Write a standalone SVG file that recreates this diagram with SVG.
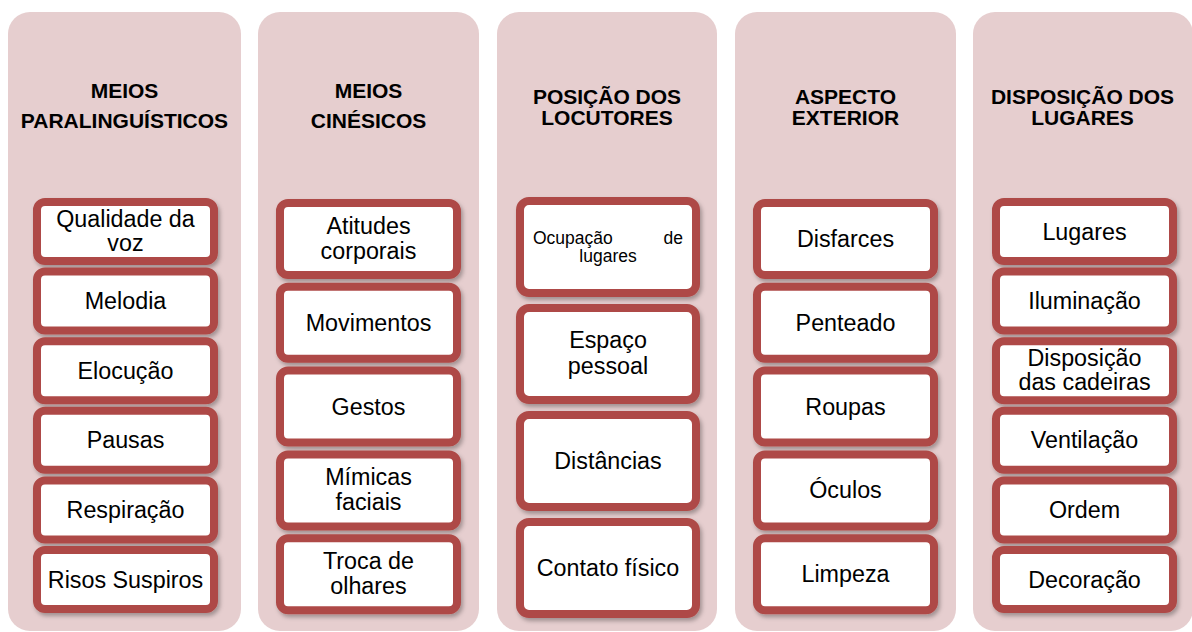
<svg xmlns="http://www.w3.org/2000/svg" width="1192" height="632" viewBox="0 0 1192 632">
<defs>
<filter id="sh" x="-10%" y="-10%" width="125%" height="130%">
<feDropShadow dx="2" dy="3" stdDeviation="2" flood-color="#000" flood-opacity="0.3"/>
</filter>
<style>
.col{fill:#E6CECF;}
.box{fill:#FFFFFF;stroke:#AE4A47;stroke-width:8;filter:url(#sh);}
.hd{font-family:"Liberation Sans",Arial,sans-serif;font-weight:bold;font-size:21px;fill:#000;text-anchor:middle;}
.t{font-family:"Liberation Sans",Arial,sans-serif;font-size:23.3px;fill:#000;text-anchor:middle;}
.s{font-family:"Liberation Sans",Arial,sans-serif;font-size:17.5px;fill:#000;}
</style>
</defs>
<rect width="1192" height="632" fill="#FFFFFF"/>

<g id="col1">
<rect class="col" x="8" y="12" width="233" height="619" rx="22"/>
<text class="hd" x="124.5" y="98">MEIOS</text>
<text class="hd" x="124.5" y="128">PARALINGUÍSTICOS</text>
</g>
<g id="col2">
<rect class="col" x="258" y="12" width="221" height="619" rx="22"/>
<text class="hd" x="368.5" y="98">MEIOS</text>
<text class="hd" x="368.5" y="128">CINÉSICOS</text>
</g>
<g id="col3">
<rect class="col" x="497" y="12" width="220" height="619" rx="22"/>
<text class="hd" x="607" y="104">POSIÇÃO DOS</text>
<text class="hd" x="607" y="125">LOCUTORES</text>
</g>
<g id="col4">
<rect class="col" x="735" y="12" width="221" height="619" rx="22"/>
<text class="hd" x="845.5" y="104">ASPECTO</text>
<text class="hd" x="845.5" y="125">EXTERIOR</text>
</g>
<g id="col5">
<rect class="col" x="973" y="12" width="220" height="619" rx="22"/>
<text class="hd" x="1082.5" y="104">DISPOSIÇÃO DOS</text>
<text class="hd" x="1082.5" y="125">LUGARES</text>
</g>

<g id="c1-qualidade"><rect class="box" x="37" y="202" width="177" height="59" rx="8"/><text class="t" x="125.5" y="227">Qualidade da</text><text class="t" x="125.5" y="251">voz</text></g>
<g id="c1-melodia"><rect class="box" x="37" y="271.6" width="177" height="59" rx="8"/><text class="t" x="125.5" y="309">Melodia</text></g>
<g id="c1-elocucao"><rect class="box" x="37" y="341.2" width="177" height="59" rx="8"/><text class="t" x="125.5" y="378.7">Elocução</text></g>
<g id="c1-pausas"><rect class="box" x="37" y="410.8" width="177" height="59" rx="8"/><text class="t" x="125.5" y="448.3">Pausas</text></g>
<g id="c1-respiracao"><rect class="box" x="37" y="480.4" width="177" height="59" rx="8"/><text class="t" x="125.5" y="517.9">Respiração</text></g>
<g id="c1-risos"><rect class="box" x="37" y="550" width="177" height="59" rx="8"/><text class="t" x="125.5" y="587.5">Risos Suspiros</text></g>

<g id="c2-atitudes"><rect class="box" x="280" y="203" width="177" height="72" rx="8"/><text class="t" x="368.5" y="234">Atitudes</text><text class="t" x="368.5" y="259">corporais</text></g>
<g id="c2-movimentos"><rect class="box" x="280" y="286.8" width="177" height="72" rx="8"/><text class="t" x="368.5" y="330.8">Movimentos</text></g>
<g id="c2-gestos"><rect class="box" x="280" y="370.6" width="177" height="72" rx="8"/><text class="t" x="368.5" y="414.6">Gestos</text></g>
<g id="c2-mimicas"><rect class="box" x="280" y="454.4" width="177" height="72" rx="8"/><text class="t" x="368.5" y="485.4">Mímicas</text><text class="t" x="368.5" y="510.4">faciais</text></g>
<g id="c2-troca"><rect class="box" x="280" y="538.2" width="177" height="72" rx="8"/><text class="t" x="368.5" y="569.2">Troca de</text><text class="t" x="368.5" y="594.2">olhares</text></g>

<g id="c3-ocupacao"><rect class="box" x="520" y="201" width="176" height="92" rx="9"/><text class="s" x="533" y="244">Ocupação</text><text class="s" x="683" y="244" text-anchor="end">de</text><text class="s" x="608" y="262" text-anchor="middle">lugares</text></g>
<g id="c3-espaco"><rect class="box" x="520" y="308" width="176" height="92" rx="9"/><text class="t" x="608" y="348">Espaço</text><text class="t" x="608" y="374">pessoal</text></g>
<g id="c3-distancias"><rect class="box" x="520" y="415" width="176" height="92" rx="9"/><text class="t" x="608" y="469">Distâncias</text></g>
<g id="c3-contato"><rect class="box" x="520" y="522" width="176" height="92" rx="9"/><text class="t" x="608" y="576">Contato físico</text></g>

<g id="c4-disfarces"><rect class="box" x="757" y="203" width="177" height="72" rx="8"/><text class="t" x="845.5" y="247">Disfarces</text></g>
<g id="c4-penteado"><rect class="box" x="757" y="286.8" width="177" height="72" rx="8"/><text class="t" x="845.5" y="330.8">Penteado</text></g>
<g id="c4-roupas"><rect class="box" x="757" y="370.6" width="177" height="72" rx="8"/><text class="t" x="845.5" y="414.6">Roupas</text></g>
<g id="c4-oculos"><rect class="box" x="757" y="454.4" width="177" height="72" rx="8"/><text class="t" x="845.5" y="498.4">Óculos</text></g>
<g id="c4-limpeza"><rect class="box" x="757" y="538.2" width="177" height="72" rx="8"/><text class="t" x="845.5" y="582.2">Limpeza</text></g>

<g id="c5-lugares"><rect class="box" x="996" y="202" width="177" height="59" rx="8"/><text class="t" x="1084.5" y="239.5">Lugares</text></g>
<g id="c5-iluminacao"><rect class="box" x="996" y="271.6" width="177" height="59" rx="8"/><text class="t" x="1084.5" y="309">Iluminação</text></g>
<g id="c5-disposicao"><rect class="box" x="996" y="341.2" width="177" height="59" rx="8"/><text class="t" x="1084.5" y="366">Disposição</text><text class="t" x="1084.5" y="390">das cadeiras</text></g>
<g id="c5-ventilacao"><rect class="box" x="996" y="410.8" width="177" height="59" rx="8"/><text class="t" x="1084.5" y="448.3">Ventilação</text></g>
<g id="c5-ordem"><rect class="box" x="996" y="480.4" width="177" height="59" rx="8"/><text class="t" x="1084.5" y="517.9">Ordem</text></g>
<g id="c5-decoracao"><rect class="box" x="996" y="550" width="177" height="59" rx="8"/><text class="t" x="1084.5" y="587.5">Decoração</text></g>

<g id="connectors"></g>
</svg>
